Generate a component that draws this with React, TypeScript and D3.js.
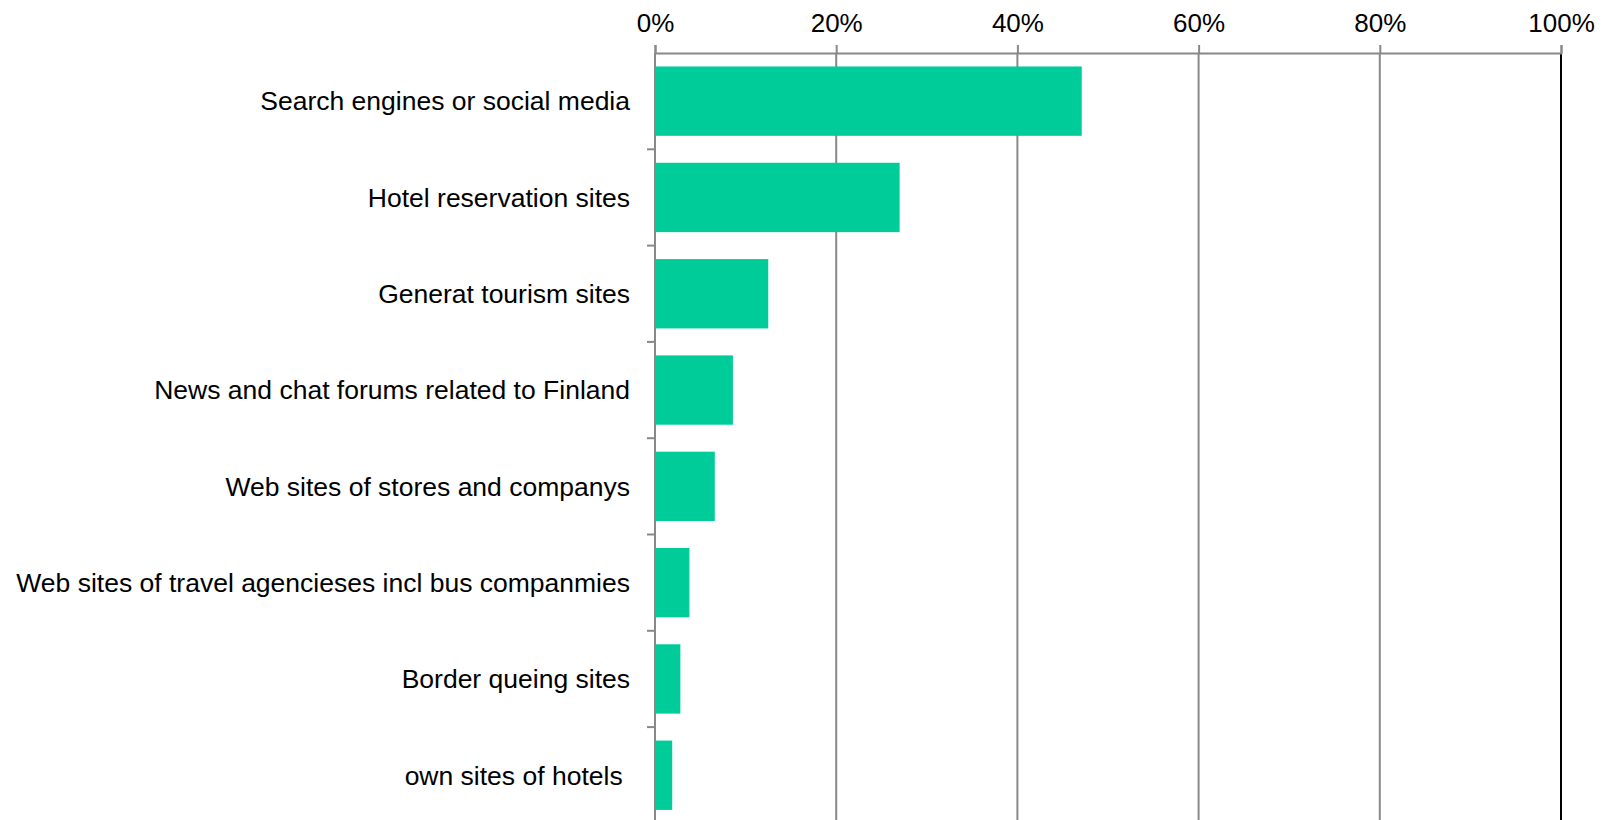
import React, { useEffect, useRef } from 'react';
import * as d3 from 'd3';

const categories = [
  'Search engines or social media',
  'Hotel reservation sites',
  'Generat tourism sites',
  'News and chat forums related to Finland',
  'Web sites of stores and companys',
  'Web sites of travel agencieses incl bus companmies',
  'Border queing sites',
  'own sites of hotels ',
];
const shares = [47.1, 27.0, 12.5, 8.6, 6.6, 3.8, 2.8, 1.9];
const xTicks = [0, 20, 40, 60, 80, 100];

const WIDTH = 1609;
const HEIGHT = 830;
const margin = { left: 655, top: 53, right: 48, bottom: 4 };
const FONT = 'Liberation Sans, Arial, sans-serif';

export default function App() {
  const ref = useRef<SVGGElement>(null);

  useEffect(() => {
    const innerWidth = WIDTH - margin.left - margin.right;
    const innerHeight = 96.3 * categories.length;

    const x = d3.scaleLinear().domain([0, 100]).range([0, innerWidth]);
    const y = d3
      .scaleBand()
      .domain(categories)
      .range([0, innerHeight])
      .paddingInner(0.28)
      .paddingOuter(0.14);

    const g = d3.select(ref.current);
    g.selectAll('*').remove();

    // vertical gridlines
    g.selectAll('line.grid')
      .data(xTicks.slice(1))
      .enter()
      .append('line')
      .attr('class', 'grid')
      .attr('x1', d => x(d))
      .attr('x2', d => x(d))
      .attr('y1', 0)
      .attr('y2', innerHeight)
      .attr('stroke', d => (d === 100 ? '#000' : '#888'))
      .attr('stroke-width', 2);

    // bars
    g.selectAll('rect')
      .data(shares)
      .enter()
      .append('rect')
      .attr('x', 0)
      .attr('y', (d, i) => y(categories[i]) as number)
      .attr('width', d => x(d))
      .attr('height', y.bandwidth())
      .attr('fill', '#00CC99');

    // top axis
    const axisTop = d3
      .axisTop(x)
      .tickValues(xTicks)
      .tickSize(8)
      .tickPadding(13)
      .tickFormat(d => `${d}%`);
    const ax = g.append('g').call(axisTop);
    ax.select('.domain').attr('stroke', '#888').attr('stroke-width', 2);
    ax.selectAll('.tick line').attr('stroke', '#888').attr('stroke-width', 2);
    ax.selectAll('.tick text')
      .attr('font-family', FONT)
      .attr('font-size', 26)
      .attr('fill', '#000');

    // left axis: ticks between categories
    const bandStep = innerHeight / categories.length;
    g.append('line')
      .attr('x1', 0)
      .attr('x2', 0)
      .attr('y1', 0)
      .attr('y2', innerHeight)
      .attr('stroke', '#888')
      .attr('stroke-width', 2);
    g.selectAll('line.ytick')
      .data(d3.range(1, categories.length + 1))
      .enter()
      .append('line')
      .attr('class', 'ytick')
      .attr('x1', -8)
      .attr('x2', 0)
      .attr('y1', i => i * bandStep)
      .attr('y2', i => i * bandStep)
      .attr('stroke', '#888')
      .attr('stroke-width', 2);

    g.selectAll('text.cat')
      .data(categories)
      .enter()
      .append('text')
      .attr('class', 'cat')
      .attr('x', -25)
      .attr('y', d => (y(d) as number) + y.bandwidth() / 2)
      .attr('dy', '0.35em')
      .attr('text-anchor', 'end')
      .attr('font-family', FONT)
      .attr('font-size', 26.5)
      .attr('fill', '#000')
      .style('white-space', 'pre')
      .text(d => d);
  }, []);

  return (
    <svg
      width={WIDTH}
      height={HEIGHT}
      viewBox={`0 0 ${WIDTH} ${HEIGHT}`}
      style={{ position: 'absolute', left: 0, top: 0 }}
    >
      <g ref={ref} transform={`translate(${margin.left}, ${margin.top})`} />
    </svg>
  );
}
